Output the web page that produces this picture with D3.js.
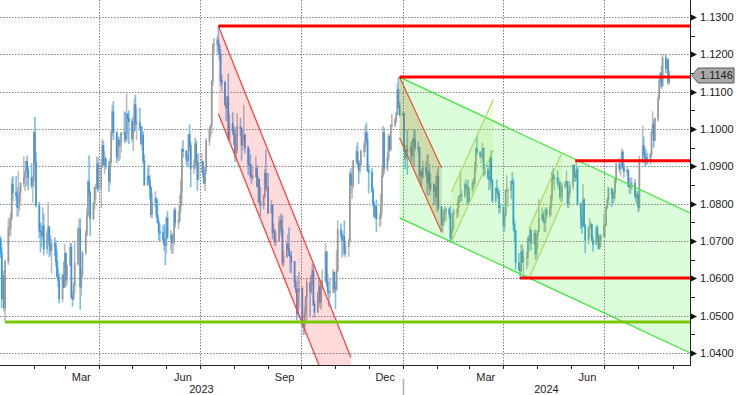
<!DOCTYPE html>
<html>
<head>
<meta charset="utf-8">
<script src="https://cdn.jsdelivr.net/npm/d3@7"></script>
<style>
  body { margin: 0; background: #fff; }
  svg { display: block; font-family: "Liberation Sans", Arial, sans-serif; }
</style>
</head>
<body>
<script>
// daily EUR/USD bars, one value per weekday from 2 Jan 2023 to 29 Aug 2024
var firstOpen = 1.0705;
var closes = [
  // 2023 Jan
  1.0668,1.0546,1.0606,1.0521,1.0645,1.0733,1.0735,1.0762,1.0852,1.0830,1.0822,1.0790,1.0794,1.0831,1.0855,1.0870,1.0885,1.0913,1.0890,1.0870,1.0849,1.0863,
  // Feb
  1.0990,1.0911,1.0796,1.0727,1.0726,1.0714,1.0740,1.0679,1.0720,1.0738,1.0689,1.0675,1.0694,1.0686,1.0646,1.0606,1.0595,1.0546,1.0608,1.0576,
  // Mar
  1.0667,1.0596,1.0634,1.0683,1.0550,1.0545,1.0581,1.0640,1.0732,1.0732,1.0577,1.0610,1.0670,1.0718,1.0770,1.0859,1.0830,1.0760,1.0800,1.0843,1.0843,1.0906,1.0840,
  // Apr
  1.0900,1.0955,1.0905,1.0920,1.0900,1.0860,1.0913,1.0991,1.1046,1.0991,1.0925,1.0970,1.0955,1.0965,1.0990,1.0986,1.0972,1.1040,1.1028,1.1020,
  // May
  1.0975,1.0995,1.1065,1.1013,1.1018,1.1005,1.0962,1.0983,1.0915,1.0850,1.0873,1.0862,1.0841,1.0771,1.0804,1.0812,1.0770,1.0750,1.0725,1.0722,1.0705,1.0690,1.0689,
  // Jun
  1.0761,1.0710,1.0715,1.0695,1.0700,1.0781,1.0750,1.0755,1.0794,1.0832,1.0945,1.0940,1.0922,1.0916,1.0985,1.0955,1.0895,1.0905,1.0960,1.0910,1.0865,1.0910,
  // Jul
  1.0912,1.0880,1.0855,1.0890,1.0968,1.0998,1.1010,1.1128,1.1226,1.1228,1.1238,1.1224,1.1200,1.1130,1.1124,1.1066,1.1056,1.1086,1.0975,1.1015,1.0996,
  // Aug
  1.0986,1.0936,1.0945,1.1006,1.1002,1.0957,1.0973,1.0983,1.0950,1.0906,1.0905,1.0875,1.0871,1.0872,1.0895,1.0846,1.0865,1.0806,1.0796,1.0819,1.0881,1.0842,1.0843,
  // Sep
  1.0775,1.0795,1.0722,1.0726,1.0698,1.0700,1.0750,1.0754,1.0731,1.0642,1.0657,1.0690,1.0679,1.0662,1.0658,1.0645,1.0590,1.0570,1.0505,1.0565,1.0573,
  // Oct
  1.0476,1.0470,1.0505,1.0550,1.0588,1.0565,1.0605,1.0620,1.0530,1.0510,1.0560,1.0577,1.0535,1.0585,1.0594,1.0670,1.0589,1.0565,1.0563,1.0565,1.0616,1.0575,
  // Nov
  1.0571,1.0620,1.0730,1.0716,1.0700,1.0711,1.0667,1.0685,1.0700,1.0880,1.0849,1.0850,1.0914,1.0939,1.0910,1.0889,1.0905,1.0940,1.0955,1.0990,1.0970,1.0889,
  // Dec
  1.0884,1.0835,1.0797,1.0765,1.0793,1.0760,1.0763,1.0795,1.0875,1.0990,1.0895,1.0922,1.0980,1.0946,1.1010,1.1011,1.1025,1.1041,1.1105,1.1060,1.1039,
  // 2024 Jan
  1.1040,1.0940,1.0920,1.0945,1.0941,1.0950,1.0930,1.0973,1.0970,1.0951,1.0950,1.0876,1.0884,1.0873,1.0896,1.0884,1.0856,1.0885,1.0840,1.0853,1.0834,1.0845,1.0819,
  // Feb
  1.0873,1.0790,1.0744,1.0755,1.0775,1.0781,1.0785,1.0772,1.0708,1.0729,1.0773,1.0777,1.0778,1.0808,1.0820,1.0823,1.0821,1.0851,1.0845,1.0840,1.0805,
  // Mar
  1.0838,1.0856,1.0855,1.0899,1.0947,1.0938,1.0926,1.0927,1.0948,1.0881,1.0890,1.0870,1.0865,1.0923,1.0859,1.0808,1.0840,1.0831,1.0826,1.0790,1.0790,
  // Apr
  1.0741,1.0770,1.0835,1.0836,1.0836,1.0860,1.0857,1.0743,1.0727,1.0642,1.0625,1.0620,1.0671,1.0643,1.0655,1.0655,1.0704,1.0700,1.0729,1.0693,1.0720,1.0665,
  // May
  1.0715,1.0726,1.0760,1.0770,1.0754,1.0749,1.0782,1.0771,1.0790,1.0819,1.0883,1.0866,1.0870,1.0856,1.0855,1.0820,1.0820,1.0846,1.0856,1.0859,1.0800,1.0830,1.0848,
  // Jun
  1.0903,1.0875,1.0870,1.0891,1.0800,1.0764,1.0740,1.0810,1.0740,1.0703,1.0735,1.0740,1.0745,1.0703,1.0691,1.0735,1.0715,1.0681,1.0701,1.0713,
  // Jul
  1.0741,1.0743,1.0790,1.0810,1.0840,1.0826,1.0815,1.0830,1.0865,1.0906,1.0893,1.0900,1.0937,1.0896,1.0886,1.0890,1.0846,1.0845,1.0850,1.0855,1.0822,1.0815,1.0825,
  // Aug
  1.0790,1.0910,1.0955,1.0933,1.0923,1.0920,1.0915,1.0932,1.0992,1.1012,1.0970,1.1028,1.1081,1.1129,1.1150,1.1115,1.1190,1.1162,1.1185,1.1125,1.1146
];
var highs = [
  1.0713,1.0684,1.0621,1.0620,1.0650,1.0760,1.0762,1.0776,1.0868,1.0874,1.0874,1.0844,1.0887,1.0845,1.0858,1.0927,1.0888,1.0915,1.0929,1.0900,1.0909,1.0874,
  1.0994,1.1033,1.0938,1.0805,1.0750,1.0744,1.0790,1.0774,1.0730,1.0805,1.0738,1.0715,1.0706,1.0710,1.0702,1.0673,1.0630,1.0613,1.0615,1.0645,
  1.0692,1.0667,1.0637,1.0695,1.0694,1.0564,1.0590,1.0700,1.0736,1.0760,1.0760,1.0628,1.0672,1.0728,1.0788,1.0862,1.0930,1.0836,1.0804,1.0846,1.0853,1.0926,1.0925,
  1.0920,1.0973,1.0968,1.0941,1.0926,1.0914,1.0922,1.0998,1.1065,1.1075,1.0994,1.0981,1.0980,1.0972,1.0991,1.1047,1.1046,1.1095,1.1041,1.1050,
  1.1029,1.1035,1.1082,1.1092,1.1055,1.1057,1.1008,1.1008,1.0993,1.0932,1.0895,1.0904,1.0877,1.0848,1.0830,1.0833,1.0818,1.0809,1.0760,1.0746,1.0742,1.0746,1.0736,
  1.0765,1.0780,1.0730,1.0722,1.0717,1.0787,1.0790,1.0780,1.0823,1.0865,1.0950,1.0970,1.0944,1.0935,1.0987,1.1012,1.0965,1.0918,1.0976,1.0970,1.0933,1.0935,
  1.0935,1.0915,1.0898,1.0901,1.0975,1.1006,1.1012,1.1130,1.1230,1.1244,1.1249,1.1276,1.1229,1.1214,1.1145,1.1129,1.1074,1.1088,1.1149,1.1041,1.1045,
  1.1008,1.1004,1.0963,1.1042,1.1030,1.1004,1.0999,1.1065,1.0987,1.0956,1.0947,1.0932,1.0905,1.0900,1.0927,1.0903,1.0876,1.0868,1.0845,1.0825,1.0893,1.0945,1.0882,
  1.0882,1.0810,1.0799,1.0747,1.0733,1.0722,1.0766,1.0769,1.0774,1.0768,1.0674,1.0698,1.0718,1.0737,1.0672,1.0673,1.0646,1.0605,1.0574,1.0607,1.0617,
  1.0578,1.0488,1.0525,1.0551,1.0598,1.0578,1.0611,1.0640,1.0638,1.0540,1.0563,1.0597,1.0595,1.0589,1.0624,1.0695,1.0673,1.0613,1.0567,1.0600,1.0625,1.0616,
  1.0590,1.0676,1.0756,1.0747,1.0720,1.0727,1.0755,1.0698,1.0705,1.0887,1.0895,1.0870,1.0917,1.0955,1.0965,1.0917,1.0916,1.0946,1.0966,1.1010,1.1017,1.0991,
  1.0906,1.0895,1.0843,1.0807,1.0799,1.0811,1.0774,1.0827,1.0894,1.1009,1.1004,1.0937,1.0988,1.0983,1.1012,1.1040,1.1030,1.1045,1.1123,1.1139,1.1074,
  1.1045,1.1045,1.0957,1.0956,1.0998,1.0963,1.0968,1.0975,1.0999,1.0998,1.0966,1.0950,1.0890,1.0894,1.0915,1.0913,1.0932,1.0932,1.0905,1.0880,1.0853,1.0853,1.0875,
  1.0888,1.0898,1.0794,1.0763,1.0786,1.0793,1.0790,1.0790,1.0794,1.0734,1.0780,1.0787,1.0788,1.0820,1.0823,1.0888,1.0837,1.0856,1.0865,1.0850,1.0865,
  1.0846,1.0865,1.0868,1.0912,1.0950,1.0981,1.0941,1.0935,1.0963,1.0950,1.0906,1.0904,1.0886,1.0929,1.0942,1.0866,1.0845,1.0865,1.0844,1.0838,1.0800,
  1.0799,1.0772,1.0839,1.0876,1.0843,1.0861,1.0885,1.0868,1.0757,1.0730,1.0668,1.0640,1.0691,1.0690,1.0678,1.0670,1.0712,1.0715,1.0740,1.0730,1.0730,1.0730,
  1.0718,1.0729,1.0812,1.0790,1.0780,1.0761,1.0790,1.0790,1.0800,1.0823,1.0887,1.0895,1.0877,1.0888,1.0869,1.0862,1.0858,1.0857,1.0860,1.0889,1.0860,1.0835,1.0860,
  1.0904,1.0902,1.0885,1.0916,1.0901,1.0803,1.0764,1.0852,1.0815,1.0744,1.0738,1.0761,1.0751,1.0745,1.0712,1.0741,1.0743,1.0718,1.0711,1.0719,
  1.0776,1.0751,1.0799,1.0816,1.0845,1.0843,1.0835,1.0838,1.0870,1.0908,1.0922,1.0904,1.0948,1.0944,1.0908,1.0900,1.0890,1.0870,1.0869,1.0871,1.0866,1.0836,1.0834,
  1.0832,1.0928,1.1009,1.0980,1.0950,1.0945,1.0935,1.0937,1.0995,1.1047,1.1025,1.1030,1.1092,1.1135,1.1150,1.1170,1.1200,1.1201,1.1189,1.1189,1.1156
];
var lows = [
  1.0654,1.0520,1.0542,1.0511,1.0483,1.0636,1.0714,1.0712,1.0755,1.0805,1.0806,1.0766,1.0765,1.0780,1.0803,1.0845,1.0834,1.0844,1.0850,1.0836,1.0841,1.0802,
  1.0844,1.0900,1.0790,1.0707,1.0669,1.0684,1.0703,1.0661,1.0666,1.0701,1.0657,1.0661,1.0613,1.0660,1.0631,1.0601,1.0577,1.0533,1.0536,1.0575,
  1.0576,1.0579,1.0582,1.0634,1.0545,1.0524,1.0541,1.0560,1.0633,1.0690,1.0516,1.0552,1.0600,1.0662,1.0712,1.0765,1.0817,1.0713,1.0756,1.0785,1.0810,1.0838,1.0831,
  1.0788,1.0896,1.0902,1.0880,1.0892,1.0831,1.0850,1.0905,1.0980,1.0970,1.0908,1.0915,1.0914,1.0920,1.0937,1.0965,1.0962,1.0965,1.0987,1.0960,
  1.0965,1.0941,1.0996,1.0995,1.0970,1.0995,1.0956,1.0942,1.0907,1.0849,1.0852,1.0850,1.0812,1.0763,1.0760,1.0790,1.0760,1.0747,1.0702,1.0700,1.0695,1.0673,1.0635,
  1.0666,1.0706,1.0675,1.0666,1.0666,1.0690,1.0736,1.0732,1.0750,1.0777,1.0795,1.0923,1.0905,1.0897,1.0900,1.0940,1.0844,1.0880,1.0892,1.0896,1.0835,1.0865,
  1.0883,1.0869,1.0854,1.0833,1.0880,1.0955,1.0978,1.0987,1.1116,1.1201,1.1205,1.1198,1.1184,1.1115,1.1100,1.1062,1.1021,1.1031,1.0970,1.0965,1.0983,
  1.0958,1.0912,1.0912,1.0935,1.0980,1.0915,1.0943,1.0976,1.0935,1.0877,1.0902,1.0867,1.0853,1.0865,1.0882,1.0844,1.0802,1.0803,1.0766,1.0784,1.0815,1.0835,1.0832,
  1.0772,1.0775,1.0705,1.0702,1.0687,1.0686,1.0699,1.0720,1.0712,1.0632,1.0631,1.0655,1.0674,1.0661,1.0616,1.0613,1.0575,1.0560,1.0488,1.0496,1.0520,
  1.0468,1.0448,1.0448,1.0495,1.0483,1.0495,1.0557,1.0580,1.0526,1.0495,1.0508,1.0532,1.0522,1.0516,1.0570,1.0588,1.0577,1.0554,1.0524,1.0548,1.0560,1.0560,
  1.0517,1.0566,1.0618,1.0706,1.0656,1.0675,1.0660,1.0655,1.0657,1.0695,1.0828,1.0813,1.0840,1.0905,1.0897,1.0853,1.0880,1.0897,1.0925,1.0939,1.0962,1.0886,
  1.0828,1.0830,1.0792,1.0765,1.0758,1.0724,1.0737,1.0742,1.0772,1.0870,1.0880,1.0886,1.0913,1.0940,1.0940,1.0995,1.1005,1.1016,1.1037,1.1055,1.1033,
  1.1035,1.0939,1.0892,1.0920,1.0877,1.0918,1.0910,1.0925,1.0900,1.0941,1.0935,1.0860,1.0845,1.0848,1.0866,1.0872,1.0822,1.0850,1.0822,1.0832,1.0795,1.0808,1.0795,
  1.0778,1.0782,1.0723,1.0722,1.0740,1.0750,1.0755,1.0760,1.0695,1.0695,1.0720,1.0732,1.0761,1.0764,1.0790,1.0804,1.0806,1.0815,1.0826,1.0797,1.0796,
  1.0795,1.0829,1.0840,1.0848,1.0884,1.0930,1.0924,1.0908,1.0920,1.0873,1.0873,1.0865,1.0836,1.0838,1.0854,1.0802,1.0802,1.0827,1.0813,1.0773,1.0775,
  1.0724,1.0725,1.0764,1.0832,1.0792,1.0812,1.0853,1.0727,1.0697,1.0622,1.0620,1.0601,1.0617,1.0643,1.0610,1.0624,1.0634,1.0672,1.0692,1.0676,1.0690,1.0650,
  1.0650,1.0680,1.0724,1.0756,1.0749,1.0724,1.0724,1.0760,1.0763,1.0766,1.0806,1.0852,1.0835,1.0846,1.0838,1.0812,1.0805,1.0805,1.0840,1.0845,1.0789,1.0788,1.0816,
  1.0838,1.0860,1.0858,1.0865,1.0795,1.0732,1.0719,1.0737,1.0737,1.0668,1.0690,1.0708,1.0735,1.0698,1.0671,1.0690,1.0700,1.0677,1.0678,1.0683,
  1.0710,1.0709,1.0740,1.0785,1.0797,1.0791,1.0800,1.0802,1.0812,1.0854,1.0883,1.0875,1.0898,1.0892,1.0870,1.0873,1.0845,1.0828,1.0825,1.0836,1.0815,1.0802,1.0796,
  1.0777,1.0781,1.0910,1.0926,1.0900,1.0904,1.0905,1.0904,1.0925,1.0982,1.0950,1.0968,1.1020,1.1080,1.1120,1.1107,1.1115,1.1150,1.1152,1.1120,1.1118
];

var priceTicks = [1.04,1.05,1.06,1.07,1.08,1.09,1.10,1.11,1.12,1.13];
var quarterLabels = ["Mar","Jun","Sep","Dec"];
var lastPrice = 1.1146;

// horizontal support / resistance lines: start date, price, colour
var levels = [
  ["2023-01-06", 1.0483, "#78c800"],
  ["2023-07-18", 1.1276, "#ff0000"],
  ["2023-12-29", 1.1139, "#ff0000"],
  ["2024-04-16", 1.0601, "#ff0000"],
  ["2024-06-05", 1.0915, "#ff0000"]
];

// channels: upper line start/end, lower line end/start
var redChannel   = [["2023-07-18",1.1276],["2023-11-15",1.0388],["2023-11-15",1.0153],["2023-07-18",1.1041]];
var greenChannel = [["2023-12-29",1.1139],["2024-09-17",1.0775],["2024-09-17",1.0400],["2023-12-29",1.0762]];
var brownChannel = [["2023-12-29",1.1139],["2024-02-05",1.0896],["2024-02-05",1.0724],["2023-12-29",1.0976]];
var riseChannelA = [["2024-02-14",1.0831],["2024-03-23",1.1080],["2024-03-23",1.0944],["2024-02-14",1.0697]];
var riseChannelB = [["2024-04-24",1.0732],["2024-05-24",1.0938],["2024-05-24",1.0802],["2024-04-24",1.0598]];

var W = 736, H = 395, plotW = 690, plotH = 365;
var parse = d3.timeParse("%Y-%m-%d");

var svg = d3.select("body").append("svg")
  .attr("width", W)
  .attr("height", H);

var x = d3.scaleTime()
  .domain([new Date(2023,0,1), new Date(2024,8,17)])
  .range([-0.45, 690.2]);
var y = d3.scaleLinear()
  .domain([1.04, 1.13])
  .range([353, 17]);

svg.append("defs").append("clipPath").attr("id","plot")
  .append("rect").attr("x",0).attr("y",0).attr("width",plotW).attr("height",plotH);

// grid
var grid = svg.append("g").attr("stroke","#808080").attr("stroke-dasharray","1.5,1.5").attr("stroke-width",1);
grid.selectAll("line.h").data(priceTicks).enter().append("line")
  .attr("x1",0).attr("x2",plotW)
  .attr("y1", function(d){ return Math.round(y(d))+0.5; })
  .attr("y2", function(d){ return Math.round(y(d))+0.5; });
var quarters = d3.timeMonth.every(3).range(new Date(2023,0,2), new Date(2024,8,17));
grid.selectAll("line.v").data(quarters).enter().append("line")
  .attr("x1", function(d){ return Math.round(x(d))+0.5; })
  .attr("x2", function(d){ return Math.round(x(d))+0.5; })
  .attr("y1",0).attr("y2",plotH);

// bars
var days = d3.timeDay.range(new Date(2023,0,2), new Date(2024,7,30))
  .filter(function(d){ return d.getDay() != 0 && d.getDay() != 6; });
var bars = [];
for (var i=0;i<closes.length;i++){
  var o = i ? closes[i-1] : firstOpen;
  bars.push({date:days[i], o:o, c:closes[i],
    h:Math.max(highs[i],o,closes[i]), l:Math.min(lows[i],o,closes[i])});
}

var plot = svg.append("g").attr("clip-path","url(#plot)");
var barG = plot.append("g");
barG.selectAll("line.wick").data(bars).enter().append("line")
  .attr("x1", function(d){ return x(d.date); })
  .attr("x2", function(d){ return x(d.date); })
  .attr("y1", function(d){ return y(d.h); })
  .attr("y2", function(d){ return y(d.l); })
  .attr("stroke", function(d){ return d.c < d.o ? "#7dbcf2" : "#bcbcbc"; })
  .attr("stroke-width", 1.6);
barG.selectAll("line.body").data(bars).enter().append("line")
  .attr("x1", function(d){ return x(d.date); })
  .attr("x2", function(d){ return x(d.date); })
  .attr("y1", function(d){ return y(Math.max(d.o,d.c)) - 0.5; })
  .attr("y2", function(d){ return y(Math.min(d.o,d.c)) + 0.5; })
  .attr("stroke", function(d){ return d.c < d.o ? "#3494ea" : "#999999"; })
  .attr("stroke-width", 1.6);

// channels
function pt(p){ return [x(parse(p[0])), y(p[1])]; }
function drawChannel(pts, fill, stroke){
  var p = pts.map(pt);
  plot.append("path").attr("d", d3.line()(p) + "Z").attr("fill", fill).attr("stroke","none");
  plot.append("path").attr("d", d3.line()([p[0],p[1]])).attr("stroke",stroke).attr("stroke-width",1.2).attr("fill","none");
  plot.append("path").attr("d", d3.line()([p[3],p[2]])).attr("stroke",stroke).attr("stroke-width",1.2).attr("fill","none");
}
drawChannel(redChannel, "rgba(255,40,40,0.17)", "#ff3b3b");
drawChannel(greenChannel, "rgba(40,240,20,0.16)", "#3ee83a");
drawChannel(brownChannel, "rgba(170,100,20,0.22)", "#e2553a");
drawChannel(riseChannelA, "rgba(170,220,80,0.16)", "#a8dc64");
drawChannel(riseChannelB, "rgba(170,220,80,0.16)", "#a8dc64");

// horizontal levels
plot.selectAll("line.level").data(levels).enter().append("line")
  .attr("x1", function(d){ return x(parse(d[0])); })
  .attr("x2", plotW)
  .attr("y1", function(d){ return y(d[1]); })
  .attr("y2", function(d){ return y(d[1]); })
  .attr("stroke", function(d){ return d[2]; })
  .attr("stroke-width", 3);

// axes
svg.append("line").attr("x1",690.5).attr("x2",690.5).attr("y1",0).attr("y2",366).attr("stroke","#222");
svg.append("line").attr("x1",0).attr("x2",691).attr("y1",365.5).attr("y2",365.5).attr("stroke","#222");

var yAxis = svg.append("g");
yAxis.selectAll("path.tick").data(priceTicks).enter().append("path")
  .attr("d", function(d){ var t = Math.round(y(d))+0.5; return "M691," + (t-3) + "L697," + t + "L691," + (t+3) + "Z"; })
  .attr("fill","#111");
yAxis.selectAll("line.minor").data(priceTicks.slice(0,-1)).enter().append("line")
  .attr("x1",691).attr("x2",695)
  .attr("y1", function(d){ return Math.round(y(d+0.005))+0.5; })
  .attr("y2", function(d){ return Math.round(y(d+0.005))+0.5; })
  .attr("stroke","#222");
yAxis.selectAll("text").data(priceTicks).enter().append("text")
  .attr("x",700).attr("y", function(d){ return y(d)+4; })
  .attr("font-size",11).attr("fill","#1a1a1a")
  .text(function(d){ return d3.format(".4f")(d); });

// x axis month ticks and labels
var months = d3.timeMonth.range(new Date(2023,0,2), new Date(2024,8,17));
svg.append("g").selectAll("line").data(months).enter().append("line")
  .attr("x1", function(d){ return Math.round(x(d))+0.5; })
  .attr("x2", function(d){ return Math.round(x(d))+0.5; })
  .attr("y1",366).attr("y2",369).attr("stroke","#222");
var labelMonths = months.filter(function(d){
  return d.getMonth()%3 == 2 && x(new Date(d.getFullYear(), d.getMonth(), 16)) < plotW - 15;
});
svg.append("g").selectAll("text").data(labelMonths).enter().append("text")
  .attr("x", function(d){ return x(new Date(d.getFullYear(), d.getMonth(), 16)); })
  .attr("y",381).attr("text-anchor","middle").attr("font-size",11).attr("fill","#2a1a1a")
  .text(function(d){ return quarterLabels[(d.getMonth()-2)/3]; });

var years = [2023, 2024];
svg.append("g").selectAll("text").data(years).enter().append("text")
  .attr("x", function(d){
    var a = Math.max(0, x(new Date(d,0,1))), b = Math.min(plotW, x(new Date(d+1,0,1)));
    return (a+b)/2; })
  .attr("y",393).attr("text-anchor","middle").attr("font-size",11).attr("fill","#2a1a1a")
  .text(function(d){ return d; });
svg.append("line")
  .attr("x1", Math.round(x(new Date(2024,0,1)))+0.5).attr("x2", Math.round(x(new Date(2024,0,1)))+0.5)
  .attr("y1",379).attr("y2",395).attr("stroke","#b0b0b0").attr("stroke-width",1.5);

// last price tag
var ty = y(lastPrice) + 1;
svg.append("path")
  .attr("d", "M692," + ty + "L698," + (ty-7.5) + "L734," + (ty-7.5) + "L734," + (ty+7.5) + "L698," + (ty+7.5) + "Z")
  .attr("fill","#a9a9a9").attr("stroke","#5a5a5a");
svg.append("text").attr("x",700).attr("y",ty+4).attr("font-size",11).attr("fill","#1a1a1a")
  .text(d3.format(".4f")(lastPrice));
</script>
</body>
</html>
